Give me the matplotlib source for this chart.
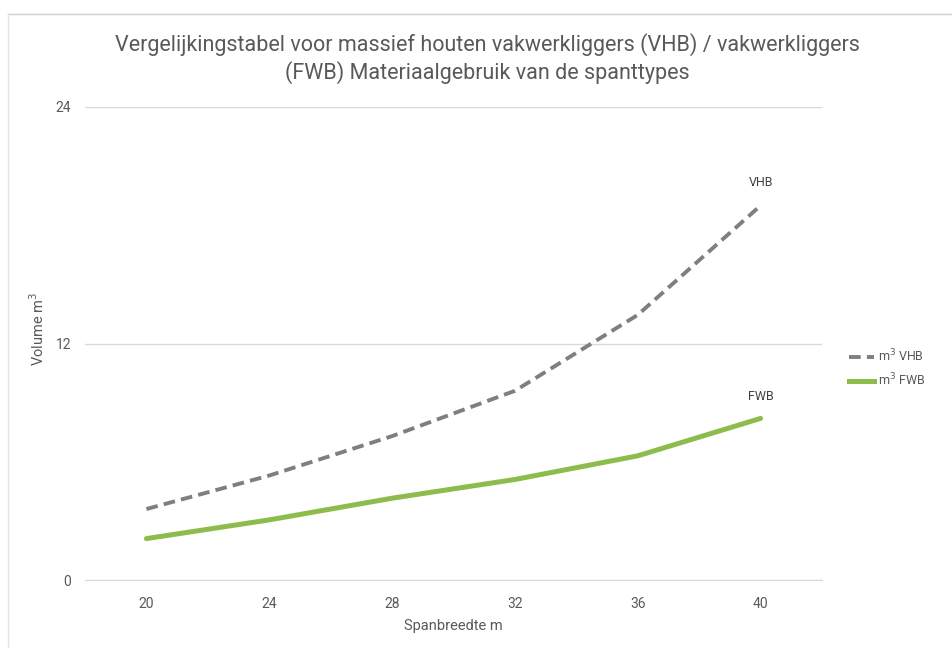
import matplotlib.pyplot as plt
from matplotlib.lines import Line2D

spans = [20, 24, 28, 32, 36, 40]
vhb = [3.6, 5.3, 7.3, 9.6, 13.45, 19.0]
fwb = [2.1, 3.05, 4.15, 5.1, 6.3, 8.2]
yticks = [0, 12, 24]

TEXT = "#595959"
GRID = "#d9d9d9"
VHB_COLOR = "#7f7f7f"
FWB_COLOR = "#8cbd4c"
FONT = ["Roboto", "DejaVu Sans"]

plt.rcParams["font.family"] = FONT

fig = plt.figure(figsize=(9.52, 6.48), dpi=100)
ax = fig.add_axes([85 / 952, 1 - 580 / 648, (822 - 85) / 952, (580 - 107) / 648])

ax.plot(spans, vhb, color=VHB_COLOR, linewidth=2.8, linestyle=(0, (3, 1.6)))
ax.plot(spans, fwb, color=FWB_COLOR, linewidth=3.6, solid_capstyle="round")

ax.text(spans[-1], vhb[-1] + 0.85, "VHB", ha="center", va="bottom", fontsize=9, color="#404040")
ax.text(spans[-1], fwb[-1] + 0.8, "FWB", ha="center", va="bottom", fontsize=9, color="#404040")

ax.set_xlim(18, 42)
ax.set_ylim(0, 24)
ax.set_xticks(spans)
ax.set_yticks(yticks)
ax.grid(axis="y", color=GRID, linewidth=1)
ax.set_axisbelow(True)
for s in ["top", "right", "left"]:
    ax.spines[s].set_visible(False)
ax.spines["bottom"].set_color(GRID)
ax.tick_params(axis="both", length=0, labelsize=10, labelcolor=TEXT)
ax.tick_params(axis="x", pad=12)
ax.tick_params(axis="y", pad=10)

ax.set_xlabel("Spanbreedte m", fontsize=10.5, color=TEXT, labelpad=6)
ax.set_ylabel("Volume m$^3$", fontsize=10.5, color=TEXT, labelpad=6)
ax.yaxis.set_label_coords(-0.052, 0.53)

fig.text(487 / 952, 1 - 45 / 648,
         "Vergelijkingstabel voor massief houten vakwerkliggers (VHB) / vakwerkliggers",
         ha="center", va="center", fontsize=15.5, color=TEXT)
fig.text(487 / 952, 1 - 73 / 648, "(FWB) Materiaalgebruik van de spanttypes",
         ha="center", va="center", fontsize=15.5, color=TEXT)

handles = [Line2D([], [], color=VHB_COLOR, linewidth=2.8, linestyle=(0, (3, 1.6))),
           Line2D([], [], color=FWB_COLOR, linewidth=3.6)]
fig.legend(handles, ["m$^3$ VHB", "m$^3$ FWB"], loc="center left",
           bbox_to_anchor=(838 / 952, 1 - 368 / 648), frameon=False,
           fontsize=9, labelcolor=TEXT, handlelength=2.0, handletextpad=0.3,
           labelspacing=0.6)

# screenshot frame
fig.add_artist(Line2D([8 / 952, 1], [1 - 14 / 648, 1 - 14 / 648], color="#d0d0d0", linewidth=1))
fig.add_artist(Line2D([8 / 952, 8 / 952], [0, 1 - 14 / 648], color="#e4e4e4", linewidth=1))

fig.savefig("out.png", dpi=100, facecolor="white")
